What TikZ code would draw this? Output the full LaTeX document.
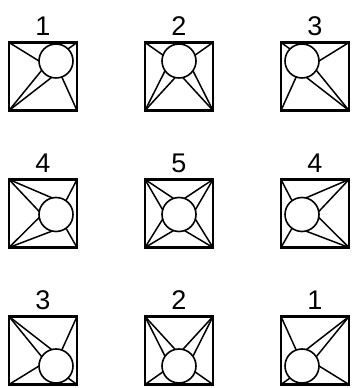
\documentclass[tikz,border=0pt]{standalone}
\usepackage{fontspec}
\setmainfont{Liberation Sans}
\usetikzlibrary{positioning}

\begin{document}
\begin{tikzpicture}[x=1pt,y=1pt,
  frame/.style={draw,line width=2.6pt,minimum size=68pt,inner sep=0pt,outer sep=0pt},
  ball/.style={draw,circle,line width=1.6pt,minimum size=34pt,inner sep=0pt,outer sep=0pt},
  ray/.style={line width=1.5pt},
  num/.style={inner sep=0pt,font=\fontsize{27}{27}\selectfont}]
  \useasboundingbox (0,0) rectangle (352,388);

  % top row
  \node[frame] (sqA) at (43,311.5) {};
  \node[ball] (bA) at (56,327) {};
  \node[num,above=7pt of sqA] (nA) {1};
  \draw[ray] (sqA.north west) -- (bA.180);
  \draw[ray] (sqA.north east) -- (bA.45);
  \draw[ray] (sqA.south west) -- (bA.213);
  \draw[ray] (sqA.south west) -- (bA.255);
  \draw[ray] (sqA.south east) -- (bA.290);

  \node[frame] (sqB) at (179,311.5) {};
  \node[ball] (bB) at (179,327) {};
  \node[num,above=7pt of sqB] (nB) {2};
  \draw[ray] (sqB.north west) -- (bB.160);
  \draw[ray] (sqB.north east) -- (bB.20);
  \draw[ray] (sqB.south west) -- (bB.215);
  \draw[ray] (sqB.south west) -- (bB.257);
  \draw[ray] (sqB.south east) -- (bB.283);
  \draw[ray] (sqB.south east) -- (bB.325);

  \node[frame] (sqC) at (315,311.5) {};
  \node[ball] (bC) at (302,327) {};
  \node[num,above=7pt of sqC] (nC) {3};
  \draw[ray] (sqC.north east) -- (bC.0);
  \draw[ray] (sqC.north west) -- (bC.135);
  \draw[ray] (sqC.south east) -- (bC.327);
  \draw[ray] (sqC.south east) -- (bC.285);
  \draw[ray] (sqC.south west) -- (bC.250);

  % middle row
  \node[frame] (sqD) at (43,174.5) {};
  \node[ball] (bD) at (56,173.5) {};
  \node[num,above=7pt of sqD] (nD) {4};
  \draw[ray] (sqD.north west) -- (bD.103);
  \draw[ray] (sqD.north west) -- (bD.170);
  \draw[ray] (sqD.north east) -- (bD.54);
  \draw[ray] (sqD.south west) -- (bD.190);
  \draw[ray] (sqD.south west) -- (bD.257);
  \draw[ray] (sqD.south east) -- (bD.306);

  \node[frame] (sqE) at (179,174.5) {};
  \node[ball] (bE) at (179,173.5) {};
  \node[num,above=7pt of sqE] (nE) {5};
  \draw[ray] (sqE.north west) -- (bE.109);
  \draw[ray] (sqE.north west) -- (bE.164);
  \draw[ray] (sqE.north east) -- (bE.71);
  \draw[ray] (sqE.north east) -- (bE.16);
  \draw[ray] (sqE.south west) -- (bE.196);
  \draw[ray] (sqE.south west) -- (bE.251);
  \draw[ray] (sqE.south east) -- (bE.289);
  \draw[ray] (sqE.south east) -- (bE.344);

  \node[frame] (sqF) at (315,174.5) {};
  \node[ball] (bF) at (302,173.5) {};
  \node[num,above=7pt of sqF] (nF) {4};
  \draw[ray] (sqF.north east) -- (bF.77);
  \draw[ray] (sqF.north east) -- (bF.10);
  \draw[ray] (sqF.north west) -- (bF.126);
  \draw[ray] (sqF.south east) -- (bF.350);
  \draw[ray] (sqF.south east) -- (bF.283);
  \draw[ray] (sqF.south west) -- (bF.234);

  % bottom row
  \node[frame] (sqG) at (43,37.5) {};
  \node[ball] (bG) at (56,22) {};
  \node[num,above=7pt of sqG] (nG) {3};
  \draw[ray] (sqG.south west) -- (bG.180);
  \draw[ray] (sqG.south east) -- (bG.315);
  \draw[ray] (sqG.north west) -- (bG.147);
  \draw[ray] (sqG.north west) -- (bG.105);
  \draw[ray] (sqG.north east) -- (bG.70);

  \node[frame] (sqH) at (179,37.5) {};
  \node[ball] (bH) at (179,22) {};
  \node[num,above=7pt of sqH] (nH) {2};
  \draw[ray] (sqH.south west) -- (bH.200);
  \draw[ray] (sqH.south east) -- (bH.340);
  \draw[ray] (sqH.north west) -- (bH.145);
  \draw[ray] (sqH.north west) -- (bH.103);
  \draw[ray] (sqH.north east) -- (bH.77);
  \draw[ray] (sqH.north east) -- (bH.35);

  \node[frame] (sqI) at (315,37.5) {};
  \node[ball] (bI) at (302,22) {};
  \node[num,above=7pt of sqI] (nI) {1};
  \draw[ray] (sqI.south east) -- (bI.0);
  \draw[ray] (sqI.south west) -- (bI.225);
  \draw[ray] (sqI.north east) -- (bI.33);
  \draw[ray] (sqI.north east) -- (bI.75);
  \draw[ray] (sqI.north west) -- (bI.110);
\end{tikzpicture}
\end{document}
